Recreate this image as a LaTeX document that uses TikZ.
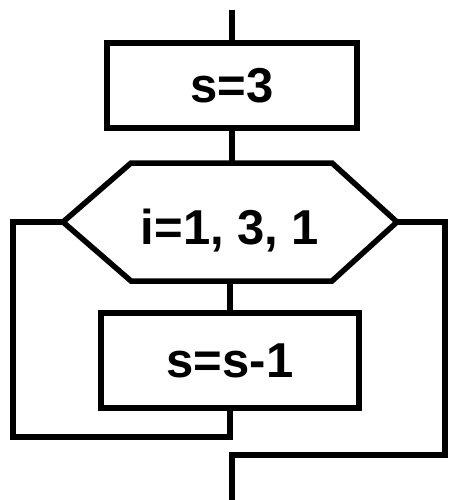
\documentclass[tikz,border=0pt]{standalone}
\usepackage{fontspec}
\setmainfont{Liberation Sans}

\tikzset{
  flow/.style={line width=5.5pt, line join=miter},
  blk/.style={draw, line width=5.5pt, inner sep=0pt, font=\fontsize{49}{51}\selectfont\bfseries},
  lbl/.style={inner sep=0pt, font=\fontsize{49}{51}\selectfont\bfseries}
}

\begin{document}
\begin{tikzpicture}[x=1pt,y=1pt,yscale=-1,xscale=1]
		\useasboundingbox (0,0) rectangle (448,500);
		
		% blocks
		\node [blk, minimum width=250, minimum height=85] (init) at (232,85.5) {s=3};
		\node [blk, minimum width=258, minimum height=95] (body) at (230,360.5) {s=s-1};
		
		% loop header
		\coordinate (hw) at (63,222);
		\coordinate (htl) at (131,163);
		\coordinate (htr) at (332,163);
		\coordinate (he) at (397,222);
		\coordinate (hbr) at (332,281);
		\coordinate (hbl) at (131,281);
		\draw [flow] (hw) -- (htl) -- (htr) -- (he) -- (hbr) -- (hbl) -- cycle;
		\node [lbl] (head) at (230,231) {i=1, 3, 1};
		
		% free ends and corners
		\coordinate (top) at (232,10);
		\coordinate (back) at (13,437);
		\coordinate (exit) at (445,455);
		\coordinate (out) at (232,500);
		
		% connectors
		\draw [flow] (top) -- (init.north);
		\draw [flow] (init.south) -- (init.south |- htl);
		\draw [flow] (body.north |- hbl) -- (body.north);
		\draw [flow] (body.south) |- (back) |- (hw);
		\draw [flow] (he) -| (exit) -| (out);
		
\end{tikzpicture}
\end{document}
